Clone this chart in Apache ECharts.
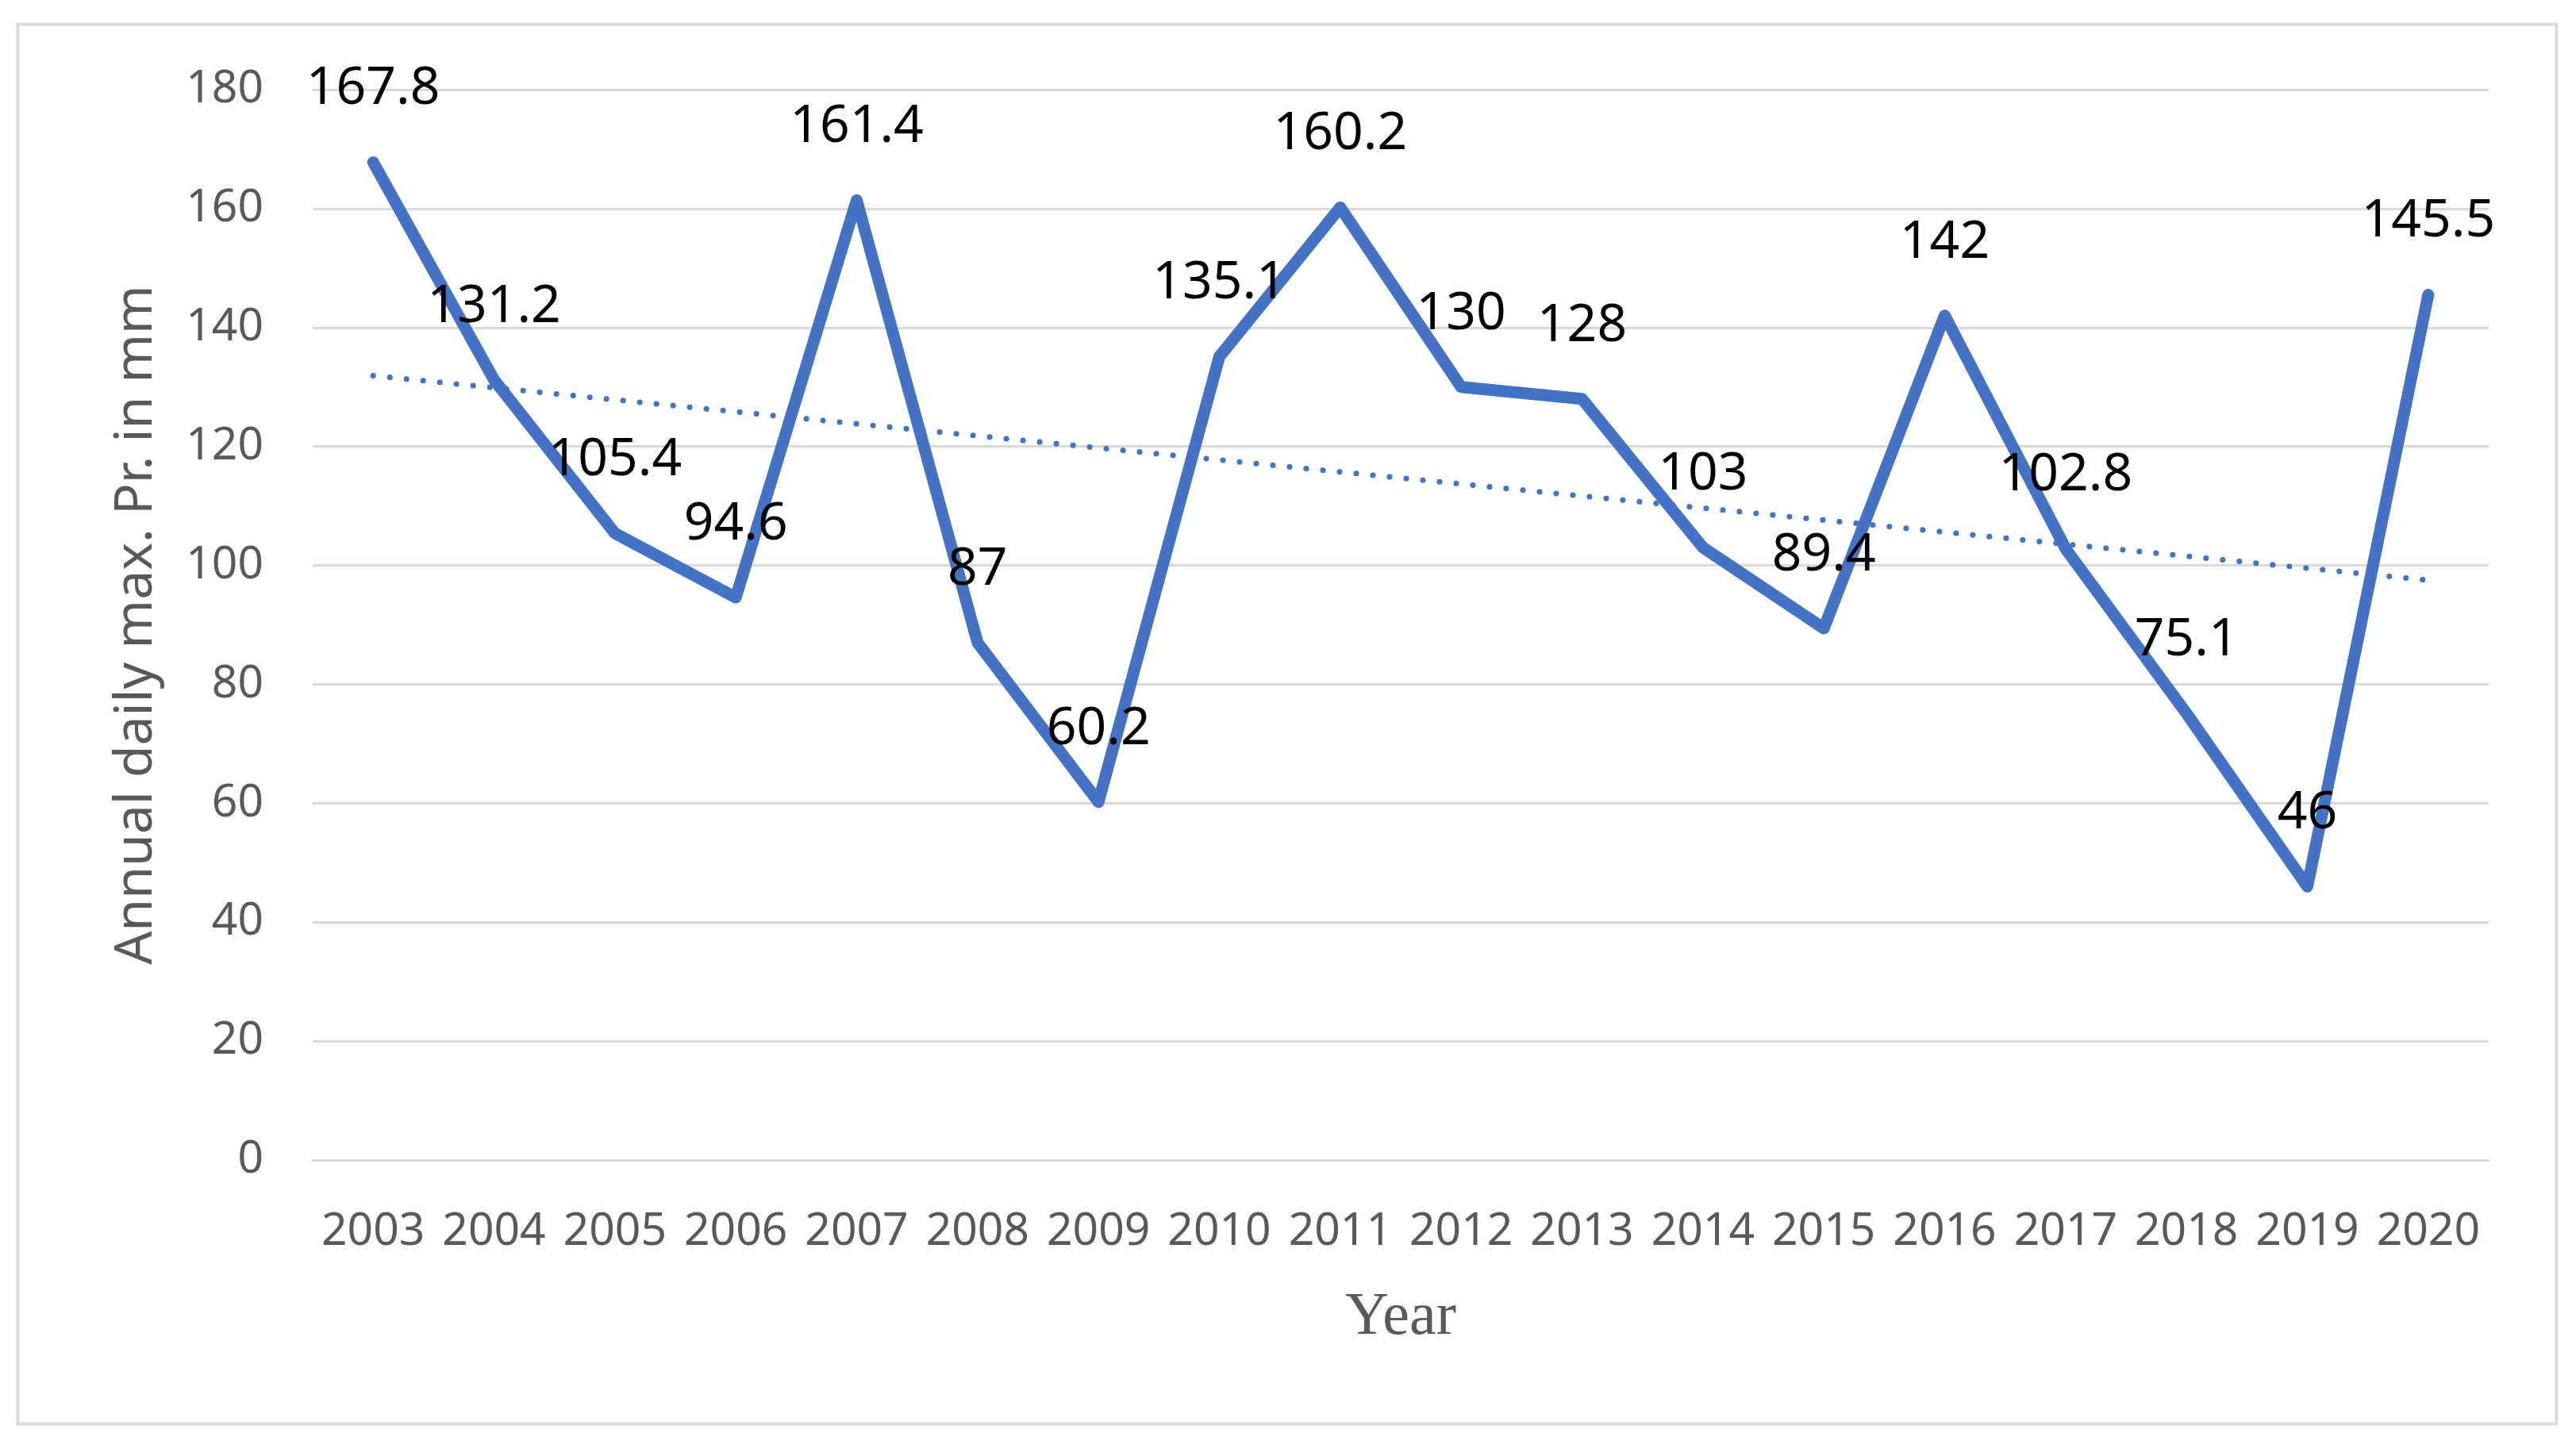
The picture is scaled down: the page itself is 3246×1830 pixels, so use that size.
<!DOCTYPE html>
<html>
<head>
<meta charset="utf-8">
<script src="https://cdn.jsdelivr.net/npm/echarts@6/dist/echarts.min.js"></script>
<style>
html,body{margin:0;padding:0;background:#fff;}
#chart{width:3246px;height:1830px;}
</style>
</head>
<body>
<div id="chart"></div>
<script>
const years = ["2003","2004","2005","2006","2007","2008","2009","2010","2011","2012","2013","2014","2015","2016","2017","2018","2019","2020"];
const maxPr = [167.8,131.2,105.4,94.6,161.4,87,60.2,135.1,160.2,130,128,103,89.4,142,102.8,75.1,46,145.5];
const trendEnds = [["2003",131.9],["2020",97.5]];
const yTicks = {min:0, max:180, interval:20};
const yName = "Annual daily max. Pr. in mm";
const xName = "Year";

const chart = echarts.init(document.getElementById('chart'), null, {renderer:'canvas'});
const option = {
  backgroundColor:'#ffffff',
  animation:false,
  graphic:[{
    type:'rect', left:20, top:28, silent:true,
    shape:{width:3199, height:1764},
    style:{fill:'none', stroke:'#d9d9d9', lineWidth:4}
  }],
  grid:{left:394, right:110, top:113, bottom:368, containLabel:false},
  xAxis:{
    type:'category', data:years, boundaryGap:true,
    axisLine:{show:true, lineStyle:{color:'#d9d9d9', width:3}},
    axisTick:{show:false},
    axisLabel:{color:'#595959', fontFamily:'Noto Sans', fontSize:57, lineHeight:57, margin:62, interval:0},
    name:xName, nameLocation:'middle', nameGap:161,
    nameTextStyle:{color:'#595959', fontFamily:'Liberation Serif', fontSize:76, lineHeight:76}
  },
  yAxis:{
    type:'value', min:yTicks.min, max:yTicks.max, interval:yTicks.interval,
    axisLine:{show:false}, axisTick:{show:false},
    splitLine:{lineStyle:{color:'#d9d9d9', width:3}},
    axisLabel:{color:'#595959', fontFamily:'Noto Sans', fontSize:57, margin:62},
    name:yName, nameLocation:'middle', nameGap:189,
    nameTextStyle:{color:'#595959', fontFamily:'Noto Sans', fontSize:66}
  },
  series:[
    {
      type:'line', data:trendEnds, symbol:'none', z:1,
      lineStyle:{color:'#4472C4', width:7, type:[0.1,21], cap:'round'}
    },
    {
      type:'line', data:maxPr, z:2,
      symbol:'circle', symbolSize:2, showSymbol:true,
      itemStyle:{color:'#4472C4'},
      lineStyle:{color:'#4472C4', width:15, cap:'round', join:'round'},
      label:{show:true, position:'top', distance:58, color:'#000000', fontFamily:'Noto Sans', fontSize:66, lineHeight:66}
    }
  ]
};
chart.setOption(option);
</script>
</body>
</html>
